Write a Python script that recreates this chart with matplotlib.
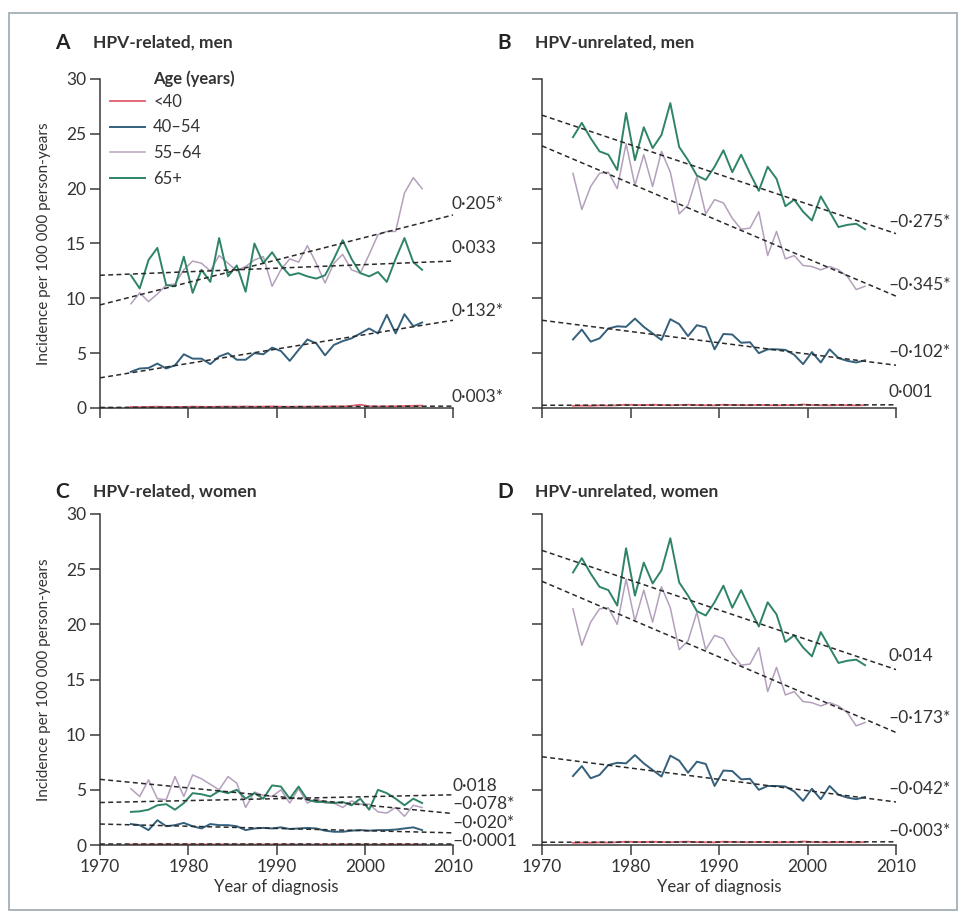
import matplotlib
matplotlib.use("Agg")
import matplotlib.pyplot as plt
from matplotlib.patches import Rectangle
import numpy as np

plt.rcParams['font.family'] = ['Lato', 'DejaVu Sans']

# years of diagnosis (plotted at mid-year)
years = np.arange(1973, 2007)
groups = ["<40", "40–54", "55–64", "65+"]
colors = {"<40": "#e0606e", "40–54": "#34607c", "55–64": "#b4a0bc", "65+": "#2f8466"}
widths = {"<40": 1.3, "40–54": 1.4, "55–64": 1.1, "65+": 1.4}

# A  HPV-related, men
a_lt40 = [0.10, 0.08, 0.10, 0.12, 0.10, 0.09, 0.10, 0.12, 0.11, 0.10, 0.12, 0.13, 0.12, 0.14, 0.12,
          0.13, 0.15, 0.12, 0.11, 0.13, 0.12, 0.14, 0.13, 0.15, 0.14, 0.20, 0.30, 0.16, 0.14, 0.15,
          0.16, 0.18, 0.20, 0.22]
a_40_54 = [3.3, 3.6, 3.65, 4.05, 3.6, 3.9, 4.9, 4.5, 4.5, 4.0, 4.7, 5.0, 4.4, 4.4, 5.0,
           4.9, 5.5, 5.2, 4.3, 5.3, 6.25, 5.9, 4.8, 5.75, 6.1, 6.35, 6.8, 7.25, 6.8, 8.5,
           6.8, 8.55, 7.45, 7.8]
a_55_64 = [9.5, 10.5, 9.7, 10.4, 11.2, 11.3, 12.6, 13.4, 13.2, 12.5, 13.9, 13.2, 12.5, 12.9, 13.5,
           13.8, 11.1, 12.6, 13.6, 13.3, 14.8, 13.2, 11.4, 13.2, 14.0, 12.6, 12.3, 14.0, 15.8, 16.1,
           16.1, 19.6, 21.0, 20.0]
a_65 = [12.1, 10.9, 13.5, 14.6, 11.2, 11.1, 13.8, 10.5, 12.6, 11.5, 15.5, 12.0, 13.0, 10.6, 15.0,
        13.2, 14.2, 13.0, 12.1, 12.3, 12.0, 11.8, 12.1, 13.6, 15.3, 13.6, 12.3, 12.0, 12.4, 11.5,
        13.6, 15.5, 13.3, 12.6]

# B  HPV-unrelated, men
b_lt40 = [0.20, 0.22, 0.20, 0.24, 0.22, 0.25, 0.30, 0.28, 0.26, 0.30, 0.27, 0.25, 0.28, 0.30, 0.26,
          0.25, 0.24, 0.30, 0.27, 0.26, 0.25, 0.28, 0.26, 0.24, 0.26, 0.25, 0.32, 0.27, 0.25, 0.24,
          0.26, 0.25, 0.24, 0.26]
b_40_54 = [6.25, 7.15, 6.05, 6.35, 7.25, 7.45, 7.4, 8.15, 7.4, 6.8, 6.2, 8.1, 7.65, 6.55, 7.55,
           7.35, 5.35, 6.75, 6.7, 5.95, 6.0, 5.0, 5.35, 5.35, 5.3, 4.85, 4.0, 5.1, 4.15, 5.35,
           4.55, 4.3, 4.15, 4.35]
b_55_64 = [21.4, 18.1, 20.2, 21.4, 21.5, 20.0, 24.1, 20.3, 23.1, 20.2, 23.4, 21.5, 17.7, 18.5, 21.1,
           17.7, 19.0, 18.7, 17.3, 16.3, 16.4, 17.9, 13.9, 16.1, 13.6, 13.9, 13.0, 12.9, 12.6, 12.9,
           12.6, 12.0, 10.8, 11.1]
b_65 = [24.7, 26.0, 24.6, 23.4, 23.1, 21.7, 26.9, 22.6, 25.6, 23.7, 24.9, 27.8, 23.8, 22.6, 21.2,
        20.8, 22.0, 23.5, 21.5, 23.1, 21.4, 19.8, 22.0, 20.9, 18.4, 19.0, 17.9, 17.1, 19.3, 17.9,
        16.5, 16.7, 16.8, 16.3]

# C  HPV-related, women
c_lt40 = [0.05, 0.04, 0.05, 0.05, 0.06, 0.05, 0.05, 0.06, 0.05, 0.05, 0.06, 0.05, 0.05, 0.04, 0.05,
          0.05, 0.06, 0.05, 0.05, 0.05, 0.04, 0.05, 0.05, 0.05, 0.06, 0.05, 0.05, 0.05, 0.04, 0.05,
          0.05, 0.05, 0.05, 0.05]
c_40_54 = [1.9, 1.8, 1.35, 2.25, 1.7, 1.8, 2.0, 1.7, 1.5, 1.9, 1.8, 1.8, 1.7, 1.35, 1.5,
           1.55, 1.5, 1.6, 1.45, 1.5, 1.55, 1.5, 1.3, 1.2, 1.2, 1.3, 1.35, 1.3, 1.35, 1.35,
           1.4, 1.5, 1.6, 1.35]
c_55_64 = [5.1, 4.4, 5.9, 4.2, 4.1, 6.2, 4.4, 6.35, 6.0, 5.5, 5.0, 6.2, 5.6, 3.4, 4.8,
           4.5, 4.4, 5.0, 3.8, 5.1, 3.8, 4.2, 3.8, 3.8, 3.4, 4.0, 3.7, 3.7, 3.0, 2.9,
           3.4, 2.6, 3.6, 3.4]
c_65 = [3.0, 3.05, 3.2, 3.6, 3.7, 3.2, 3.8, 4.7, 4.6, 4.4, 4.9, 4.7, 5.0, 4.2, 4.7,
        4.2, 5.4, 5.3, 4.2, 5.3, 4.1, 3.9, 3.9, 3.8, 3.9, 3.6, 4.2, 3.2, 5.0, 4.7,
        4.2, 3.6, 4.2, 3.8]

# D  HPV-unrelated, women (same curves as in the original figure)
d_lt40 = list(b_lt40)
d_40_54 = list(b_40_54)
d_55_64 = list(b_55_64)
d_65 = list(b_65)

# fitted trend lines: value at 1970 and at 2010, per age group
trend_years = [1970, 2010]
a_trend = {"<40": [0.05, 0.17], "40–54": [2.75, 8.0], "55–64": [9.4, 17.6], "65+": [12.1, 13.4]}
b_trend = {"<40": [0.25, 0.29], "40–54": [8.0, 3.9], "55–64": [23.9, 10.2], "65+": [26.7, 15.9]}
c_trend = {"<40": [0.05, 0.05], "40–54": [1.9, 1.1], "55–64": [5.95, 2.85], "65+": [3.85, 4.55]}
d_trend = dict(b_trend)

# annual percentage change labels
a_labels = {"<40": "0·003*", "40–54": "0·132*", "55–64": "0·205*", "65+": "0·033"}
b_labels = {"<40": "0·001", "40–54": "–0·102*", "55–64": "–0·345*", "65+": "–0·275*"}
c_labels = {"<40": "–0·0001", "40–54": "–0·020*", "55–64": "–0·078*", "65+": "0·018"}
d_labels = {"<40": "–0·003*", "40–54": "–0·042*", "55–64": "–0·173*", "65+": "0·014"}

# label placement (x, y in data units)
a_lab_pos = {"<40": (2009.8, 1.0), "40–54": (2009.8, 8.8), "55–64": (2009.8, 18.6), "65+": (2009.8, 14.6)}
b_lab_pos = {"<40": (2009.2, 1.5), "40–54": (2009.1, 5.1), "55–64": (2009.1, 11.2), "65+": (2009.1, 17.0)}
c_lab_pos = {"<40": (2009.9, 0.4), "40–54": (2009.9, 2.0), "55–64": (2009.9, 3.7), "65+": (2009.9, 5.35)}
d_lab_pos = {"<40": (2009.1, 1.3), "40–54": (2009.1, 5.1), "55–64": (2009.1, 11.5), "65+": (2009.2, 17.1)}

panels = [
    ("A", "HPV-related, men", [a_lt40, a_40_54, a_55_64, a_65], a_trend, a_labels, a_lab_pos),
    ("B", "HPV-unrelated, men", [b_lt40, b_40_54, b_55_64, b_65], b_trend, b_labels, b_lab_pos),
    ("C", "HPV-related, women", [c_lt40, c_40_54, c_55_64, c_65], c_trend, c_labels, c_lab_pos),
    ("D", "HPV-unrelated, women", [d_lt40, d_40_54, d_55_64, d_65], d_trend, d_labels, d_lab_pos),
]

W, H = 961, 914
fig = plt.figure(figsize=(W / 100, H / 100), dpi=100)
# axes boxes in pixels: left, top, right, bottom
boxes = [(100, 79, 453, 408), (542, 79, 896, 408), (100, 514, 453, 845), (542, 514, 896, 845)]

axis_col = "#3a3a3a"
txt_col = "#333333"
for k, (letter, title, series, trend, labels, lab_pos) in enumerate(panels):
    l, t, r, b = boxes[k]
    ax = fig.add_axes([l / W, 1 - b / H, (r - l) / W, (b - t) / H])
    x = years + 0.5
    # draw order: red on bottom, then mauve, blue, green
    for g, vals in zip(groups, series):
        ax.plot(x, vals, color=colors[g], lw=widths[g], label=g,
                zorder={"<40": 2, "40–54": 3, "55–64": 2.5, "65+": 3.5}[g])
    for g in groups:
        ax.plot(trend_years, trend[g], color="#2a2a2a", lw=1.1, ls=(0, (3.2, 2.2)), zorder=4,
                clip_on=False)
        ax.text(lab_pos[g][0], lab_pos[g][1], labels[g], fontsize=12.5, color=txt_col,
                ha="left", va="center")
    ax.set_xlim(1970, 2010)
    ax.set_ylim(0, 30)
    ax.set_xticks([1970, 1980, 1990, 2000, 2010])
    ax.set_yticks([0, 5, 10, 15, 20, 25, 30])
    for s in ["top", "right"]:
        ax.spines[s].set_visible(False)
    for s in ["left", "bottom"]:
        ax.spines[s].set_color(axis_col)
        ax.spines[s].set_linewidth(1.1)
    ax.tick_params(direction="out", length=7, width=1.1, color=axis_col, labelsize=12.5,
                   labelcolor=txt_col, pad=3)
    if k in (1, 3):
        ax.tick_params(labelleft=False)
    else:
        ax.set_ylabel("Incidence per 100 000 person-years", fontsize=11, color=txt_col,
                      labelpad=11)
    if k in (0, 1):
        ax.tick_params(labelbottom=False)
    else:
        ax.set_xlabel("Year of diagnosis", fontsize=12, color=txt_col, labelpad=3)
    ty = t - 36 if k < 2 else t - 22
    fig.text((l - 45) / W, 1 - ty / H, letter, fontsize=15, fontweight="bold", color="#222222",
             va="center", ha="left")
    fig.text((l - 7) / W, 1 - ty / H, title, fontsize=12.5, fontweight="bold", color=txt_col,
             va="center", ha="left")
    if k == 0:
        ax.legend(loc="upper left", bbox_to_anchor=(0.028, 0.955), frameon=False,
                  fontsize=12, handlelength=2.1, handletextpad=0.5, labelspacing=0.58,
                  labelcolor=txt_col, borderaxespad=0, borderpad=0)
        fig.text(153 / W, 1 - 79 / H, "Age (years)", fontsize=12, fontweight="bold",
                 color=txt_col, va="center", ha="left")

fig.patches.append(Rectangle((9 / W, 1 - 910 / H), 948 / W, 897 / H, transform=fig.transFigure,
                             fill=False, edgecolor="#a4b0b6", lw=1.3))

fig.savefig("out.png", dpi=100)
